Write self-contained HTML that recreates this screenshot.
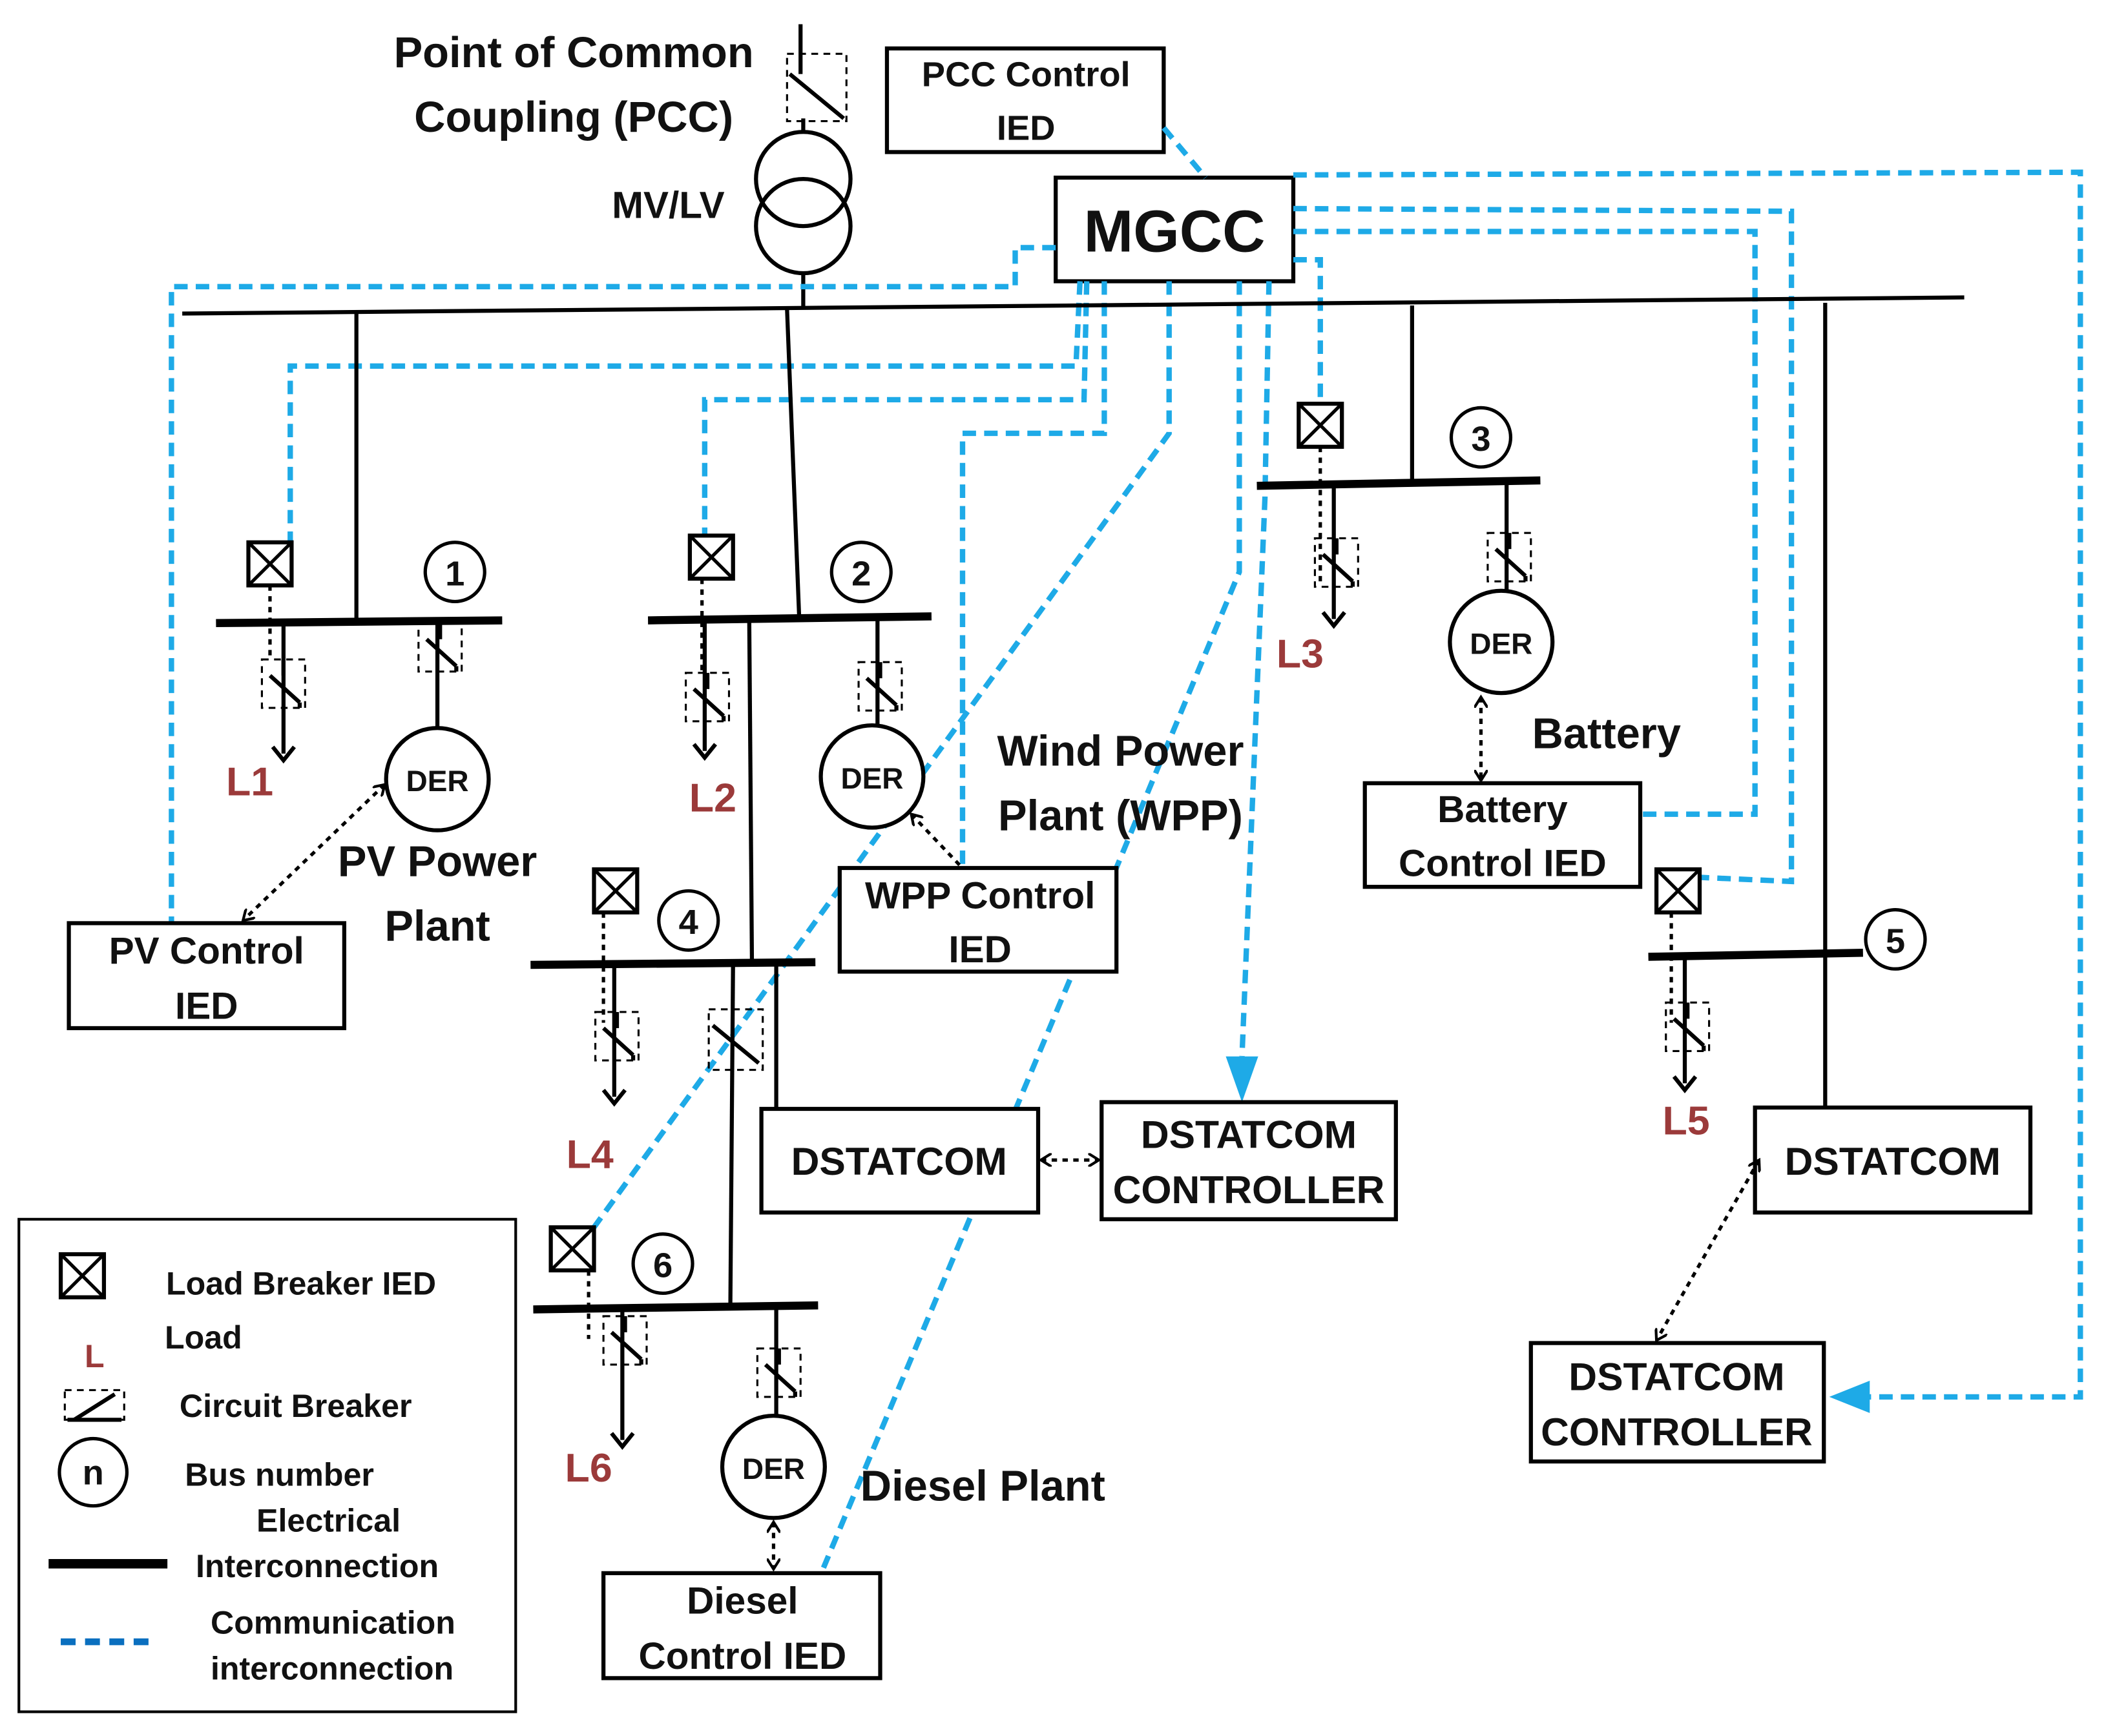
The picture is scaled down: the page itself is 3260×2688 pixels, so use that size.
<!DOCTYPE html>
<html><head><meta charset="utf-8"><style>
html,body{margin:0;padding:0;background:#fff}
svg{display:block}
text{font-family:"Liberation Sans",sans-serif;font-weight:bold;fill:#111}
.t{font-size:26px;text-anchor:middle}
.red{fill:#9b3a3a;font-size:30px;text-anchor:middle}
.bus{stroke:#000;stroke-width:6}
.w{stroke:#000;stroke-width:3;fill:none}
.box{stroke:#000;stroke-width:3;fill:#fff}
.b{stroke:#1eaae7;stroke-width:4;stroke-dasharray:10 6;fill:none}
.d{stroke:#000;stroke-width:2.5;stroke-dasharray:4 4;fill:none}
.sw{stroke:#000;stroke-width:1.5;stroke-dasharray:5 4;fill:none}
</style></head><body>
<svg width="3260" height="2688" viewBox="0 0 1560 1290" preserveAspectRatio="none" xmlns="http://www.w3.org/2000/svg">
<defs>
<g id="lb"><rect x="0" y="0" width="32" height="32" fill="#fff" stroke="#000" stroke-width="3"/><line x1="0" y1="0" x2="32" y2="32" stroke="#000" stroke-width="2.5"/><line x1="32" y1="0" x2="0" y2="32" stroke="#000" stroke-width="2.5"/></g>
<g id="cb"><rect x="-16" y="0" width="32" height="36" class="sw"/><line x1="0" y1="0" x2="0" y2="12" class="w"/><line x1="-10" y1="12" x2="12" y2="32" class="w"/><line x1="12" y1="32" x2="12" y2="36" class="w"/></g>
<marker id="ah" markerWidth="10" markerHeight="10" refX="8" refY="5" orient="auto-start-reverse" markerUnits="userSpaceOnUse"><path d="M0,0 L8,5 L0,10" fill="none" stroke="#000" stroke-width="2"/></marker>
</defs>

<!-- PCC -->
<text x="425" y="50" style="font-size:32px;text-anchor:middle">Point of Common</text>
<text x="425" y="98" style="font-size:32px;text-anchor:middle">Coupling (PCC)</text>
<text x="495" y="162" style="font-size:28px;text-anchor:middle">MV/LV</text>
<line x1="593" y1="18" x2="593" y2="55" class="w"/>
<line x1="585" y1="55" x2="625" y2="88" class="w"/>
<rect x="583" y="40" width="44" height="50" class="sw"/>
<line x1="595" y1="88" x2="595" y2="98" class="w"/>
<circle cx="595" cy="133" r="35" class="w"/>
<circle cx="595" cy="168" r="35" class="w"/>
<line x1="595" y1="203" x2="595" y2="229" class="w"/>
<rect x="657" y="36" width="205" height="77" class="box"/>
<text x="760" y="64" class="t">PCC Control</text><text x="760" y="104" class="t">IED</text>
<rect x="782" y="132" width="176" height="77" class="box"/>
<text x="870" y="187" style="font-size:44px;text-anchor:middle">MGCC</text>

<!-- blue comm lines -->
<path class="b" d="M862,95 L893,132"/>
<path class="b" d="M958,130 L1541,128 L1541,1038 L1380,1038"/>
<polygon points="1355,1038 1385,1026 1385,1050" fill="#1eaae7"/>
<path class="b" d="M958,155 L1327,157 L1327,655 L1260,652"/>
<path class="b" d="M958,172 L1300,172 L1300,605 L1215,605"/>
<path class="b" d="M958,193 L978,193 L978,300"/>
<path class="b" d="M782,184 L752,184 L752,213 L127,213 L127,686"/>
<path class="b" d="M800,209 L797,272 L215,272 L215,403"/>
<path class="b" d="M805,209 L803,297 L522,297 L522,398"/>
<path class="b" d="M818,209 L818,322 L713,322 L713,645"/>
<path class="b" d="M866,209 L866,322 L440,912"/>
<path class="b" d="M918,209 L918,425 L795,722 L610,1165"/>
<path class="b" d="M940,209 L937,370 L920,785"/>
<polygon points="920,819 908,785 932,785" fill="#1eaae7"/>

<!-- main bus -->
<line x1="135" y1="233" x2="1455" y2="221" class="w"/>

<!-- Bus 1 -->
<line x1="264" y1="233" x2="264" y2="462" class="w"/>
<line x1="160" y1="463" x2="372" y2="461" class="bus"/>
<circle cx="337" cy="425" r="22" fill="#fff" stroke="#000" stroke-width="2.5"/><text x="337" y="435" class="t">1</text>
<use href="#lb" x="184" y="403"/>
<line x1="200" y1="435" x2="200" y2="490" class="d"/>
<line x1="210" y1="463" x2="210" y2="560" class="w"/>
<use href="#cb" x="210" y="490"/>
<path d="M202,555 L210,565 L218,555" class="w"/>
<text x="185" y="591" class="red">L1</text>
<line x1="324" y1="461" x2="324" y2="541" class="w"/>
<use href="#cb" x="326" y="463"/>
<circle cx="324" cy="579" r="38" class="box"/><text x="324" y="588" style="font-size:22px;text-anchor:middle">DER</text>
<line x1="285" y1="583" x2="180" y2="684" class="d" marker-end="url(#ah)" marker-start="url(#ah)"/>
<rect x="51" y="686" width="204" height="78" class="box"/>
<text x="153" y="716" class="t" style="font-size:28px">PV Control</text><text x="153" y="757" class="t" style="font-size:28px">IED</text>
<text x="324" y="651" style="font-size:32px;text-anchor:middle">PV Power</text>
<text x="324" y="699" style="font-size:32px;text-anchor:middle">Plant</text>

<!-- Bus 2 -->
<line x1="583" y1="230" x2="592" y2="459" class="w"/>
<line x1="480" y1="461" x2="690" y2="458" class="bus"/>
<circle cx="638" cy="425" r="22" fill="#fff" stroke="#000" stroke-width="2.5"/><text x="638" y="435" class="t">2</text>
<use href="#lb" x="511" y="398"/>
<line x1="520" y1="430" x2="520" y2="500" class="d"/>
<line x1="522" y1="460" x2="522" y2="558" class="w"/>
<use href="#cb" x="524" y="500"/>
<path d="M514,553 L522,563 L530,553" class="w"/>
<text x="528" y="603" class="red">L2</text>
<line x1="650" y1="459" x2="650" y2="540" class="w"/>
<use href="#cb" x="652" y="492"/>
<circle cx="646" cy="577" r="38" class="box"/><text x="646" y="586" style="font-size:22px;text-anchor:middle">DER</text>
<line x1="675" y1="605" x2="711" y2="643" class="d" marker-start="url(#ah)"/>
<line x1="555" y1="461" x2="557" y2="716" class="w"/>
<text x="830" y="569" style="font-size:32px;text-anchor:middle">Wind Power</text>
<text x="830" y="617" style="font-size:32px;text-anchor:middle">Plant (WPP)</text>
<rect x="622" y="645" width="205" height="77" class="box"/>
<text x="726" y="675" class="t" style="font-size:28px">WPP Control</text><text x="726" y="715" class="t" style="font-size:28px">IED</text>

<!-- Bus 4 -->
<line x1="393" y1="717" x2="604" y2="715" class="bus"/>
<circle cx="510" cy="684" r="22" fill="#fff" stroke="#000" stroke-width="2.5"/><text x="510" y="694" class="t">4</text>
<use href="#lb" x="440" y="646"/>
<line x1="447" y1="678" x2="447" y2="760" class="d"/>
<line x1="455" y1="717" x2="455" y2="815" class="w"/>
<use href="#cb" x="457" y="752"/>
<path d="M447,810 L455,820 L463,810" class="w"/>
<text x="437" y="868" class="red">L4</text>
<line x1="575" y1="715" x2="575" y2="824" class="w"/>
<line x1="543" y1="717" x2="541" y2="970" class="w"/>
<rect x="525" y="750" width="40" height="45" class="sw"/>
<line x1="528" y1="762" x2="562" y2="790" class="w"/>
<rect x="564" y="824" width="205" height="77" class="box"/>
<text x="666" y="873" class="t" style="font-size:29px">DSTATCOM</text>
<line x1="771" y1="862" x2="814" y2="862" class="d" marker-start="url(#ah)" marker-end="url(#ah)"/>
<rect x="816" y="819" width="218" height="87" class="box"/>
<text x="925" y="853" class="t" style="font-size:29px">DSTATCOM</text><text x="925" y="894" class="t" style="font-size:29px">CONTROLLER</text>

<!-- Bus 6 -->
<line x1="395" y1="973" x2="606" y2="970" class="bus"/>
<circle cx="491" cy="939" r="22" fill="#fff" stroke="#000" stroke-width="2.5"/><text x="491" y="949" class="t">6</text>
<use href="#lb" x="408" y="912"/>
<line x1="436" y1="944" x2="436" y2="995" class="d"/>
<line x1="461" y1="973" x2="461" y2="1070" class="w"/>
<use href="#cb" x="463" y="978"/>
<path d="M453,1065 L461,1075 L469,1065" class="w"/>
<text x="436" y="1101" class="red">L6</text>
<line x1="575" y1="971" x2="575" y2="1052" class="w"/>
<use href="#cb" x="577" y="1002"/>
<circle cx="573" cy="1090" r="38" class="box"/><text x="573" y="1099" style="font-size:22px;text-anchor:middle">DER</text>
<line x1="573" y1="1131" x2="573" y2="1166" class="d" marker-start="url(#ah)" marker-end="url(#ah)"/>
<text x="728" y="1115" style="font-size:32px;text-anchor:middle">Diesel Plant</text>
<rect x="447" y="1169" width="205" height="78" class="box"/>
<text x="550" y="1199" class="t" style="font-size:28px">Diesel</text><text x="550" y="1240" class="t" style="font-size:28px">Control IED</text>

<!-- Bus 3 -->
<line x1="1046" y1="227" x2="1046" y2="358" class="w"/>
<line x1="931" y1="361" x2="1141" y2="357" class="bus"/>
<circle cx="1097" cy="325" r="22" fill="#fff" stroke="#000" stroke-width="2.5"/><text x="1097" y="335" class="t">3</text>
<use href="#lb" x="962" y="300"/>
<line x1="978" y1="332" x2="978" y2="435" class="d"/>
<line x1="988" y1="360" x2="988" y2="460" class="w"/>
<use href="#cb" x="990" y="400"/>
<path d="M980,455 L988,465 L996,455" class="w"/>
<text x="963" y="496" class="red">L3</text>
<line x1="1116" y1="358" x2="1116" y2="439" class="w"/>
<use href="#cb" x="1118" y="396"/>
<circle cx="1112" cy="477" r="38" class="box"/><text x="1112" y="486" style="font-size:22px;text-anchor:middle">DER</text>
<line x1="1097" y1="518" x2="1097" y2="580" class="d" marker-start="url(#ah)" marker-end="url(#ah)"/>
<text x="1190" y="556" style="font-size:32px;text-anchor:middle">Battery</text>
<rect x="1011" y="582" width="204" height="77" class="box"/>
<text x="1113" y="611" class="t" style="font-size:28px">Battery</text><text x="1113" y="651" class="t" style="font-size:28px">Control IED</text>

<!-- Bus 5 -->
<line x1="1352" y1="225" x2="1352" y2="823" class="w"/>
<line x1="1221" y1="711" x2="1380" y2="708" class="bus"/>
<circle cx="1404" cy="698" r="22" fill="#fff" stroke="#000" stroke-width="2.5"/><text x="1404" y="708" class="t">5</text>
<use href="#lb" x="1227" y="646"/>
<line x1="1238" y1="678" x2="1238" y2="760" class="d"/>
<line x1="1248" y1="711" x2="1248" y2="805" class="w"/>
<use href="#cb" x="1250" y="745"/>
<path d="M1240,800 L1248,810 L1256,800" class="w"/>
<text x="1249" y="843" class="red">L5</text>
<rect x="1300" y="823" width="204" height="78" class="box"/>
<text x="1402" y="873" class="t" style="font-size:29px">DSTATCOM</text>
<line x1="1303" y1="862" x2="1227" y2="996" class="d" marker-start="url(#ah)" marker-end="url(#ah)"/>
<rect x="1134" y="998" width="217" height="88" class="box"/>
<text x="1242" y="1033" class="t" style="font-size:29px">DSTATCOM</text><text x="1242" y="1074" class="t" style="font-size:29px">CONTROLLER</text>

<!-- Legend -->
<rect x="14" y="906" width="368" height="366" fill="#fff" stroke="#000" stroke-width="2"/>
<use href="#lb" x="45" y="932"/>
<text x="123" y="962" style="font-size:24px">Load Breaker IED</text>
<text x="70" y="1016" class="red" style="font-size:24px">L</text>
<text x="122" y="1002" style="font-size:24px">Load</text>
<rect x="48" y="1033" width="44" height="22" class="sw"/>
<line x1="50" y1="1055" x2="90" y2="1055" class="w"/>
<line x1="55" y1="1055" x2="85" y2="1036" class="w"/>
<text x="133" y="1053" style="font-size:24px">Circuit Breaker</text>
<circle cx="69" cy="1094" r="25" fill="#fff" stroke="#000" stroke-width="2.5"/>
<text x="69" y="1103" style="font-size:26px;text-anchor:middle">n</text>
<text x="137" y="1104" style="font-size:24px">Bus number</text>
<text x="190" y="1138" style="font-size:24px">Electrical</text>
<line x1="36" y1="1162" x2="124" y2="1162" stroke="#000" stroke-width="7"/>
<text x="145" y="1172" style="font-size:24px">Interconnection</text>
<text x="156" y="1214" style="font-size:24px">Communication</text>
<line x1="45" y1="1220" x2="110" y2="1220" stroke="#0a6fbf" stroke-width="5" stroke-dasharray="11 7"/>
<text x="156" y="1248" style="font-size:24px">interconnection</text>
</svg>
</body></html>
